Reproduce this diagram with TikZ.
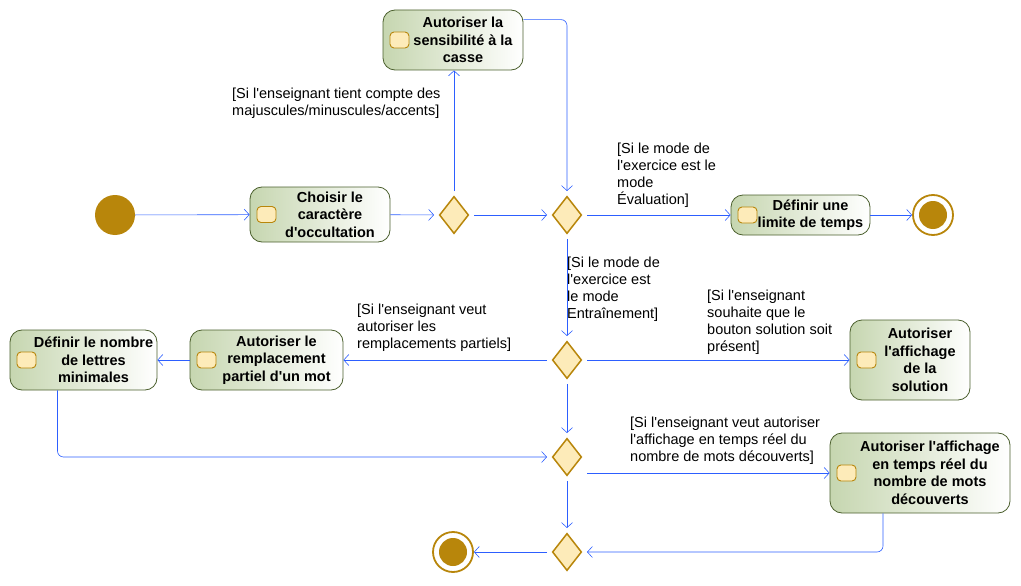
\documentclass[tikz,border=0pt]{standalone}
\usepackage{fontspec}
\setmainfont{Liberation Sans}
\usetikzlibrary{arrows.meta,shapes.geometric}

\definecolor{flowblue}{RGB}{45,95,255}
\definecolor{boxline}{RGB}{75,95,45}
\definecolor{boxgreen}{RGB}{198,214,176}
\definecolor{gold}{RGB}{184,134,11}
\definecolor{paleyellow}{RGB}{253,235,185}

\newcommand\ap{\textquotesingle}

\tikzset{
  iconbox/.style={draw=gold, fill=paleyellow, line width=0.9pt, rounded corners=4pt},
  action/.style={rounded corners=12pt, draw=boxline, line width=0.8pt, left color=boxgreen, right color=white,
    inner sep=0pt,
    path picture={\draw[iconbox] ([xshift=7pt,yshift=-8pt]path picture bounding box.west) rectangle ++(19pt,16pt);}},
  acttext/.style={align=center, xshift=10pt, font=\bfseries\fontsize{14.5}{17.5}\selectfont},
  decision/.style={diamond, draw=gold, fill=paleyellow, line width=1.5pt, minimum width=32pt, minimum height=40pt,
    inner sep=0pt, outer sep=4pt},
  startdot/.style={circle, fill=gold, minimum size=40pt, inner sep=0pt},
  enddot/.style={circle, draw=gold, line width=1.8pt, fill=white, minimum size=40pt, inner sep=0pt,
    path picture={\fill[gold] (path picture bounding box.center) circle (14pt);}},
  flow/.style={draw=flowblue, line width=0.6pt, -{Straight Barb[length=5pt,width=11pt]}},
  guard/.style={anchor=north west, align=left, inner sep=0pt, font=\fontsize{14.5}{17}\selectfont}
}

\begin{document}
\begin{tikzpicture}[x=1pt,y=-1pt]
  \useasboundingbox (0,0) rectangle (1021,586);

  % start and first actions
  \node[startdot] (start) at (115,215) {};
  \node[action, minimum width=140pt, minimum height=55pt,
    label={[acttext]center:{Choisir le\\caractère\\d\ap occultation}}] (choisir) at (320,214.5) {};
  \node[decision] (d1) at (454,215) {};
  \node[action, minimum width=140pt, minimum height=60pt,
    label={[acttext]center:{Autoriser la\\sensibilité à la\\casse}}] (casse) at (453,40) {};
  \node[decision] (d2) at (567,215) {};
  \node[action, minimum width=139pt, minimum height=40pt,
    label={[acttext]center:{Définir une\\limite de temps}}] (limite) at (800.5,215) {};
  \node[enddot] (finA) at (933,215) {};

  % middle part
  \node[decision] (d3) at (567,360) {};
  \node[action, minimum width=153pt, minimum height=60pt,
    label={[acttext]center:{Autoriser le\\remplacement\\partiel d\ap un mot}}] (remplace) at (266.5,360) {};
  \node[action, minimum width=147pt, minimum height=60pt,
    label={[acttext]center:{Définir le nombre\\de lettres\\minimales}}] (nombre) at (83.5,360) {};
  \node[action, minimum width=120pt, minimum height=80pt,
    label={[acttext]center:{Autoriser\\l\ap affichage\\de la\\solution}}] (solution) at (910,360) {};

  % bottom part
  \node[decision] (d4) at (567,457) {};
  \node[action, minimum width=180pt, minimum height=80pt,
    label={[acttext]center:{Autoriser l\ap affichage\\en temps réel du\\nombre de mots\\découverts}}] (tempsreel) at (920,473) {};
  \node[decision] (d5) at (567,552) {};
  \node[enddot] (finB) at (453,552) {};

  % guards
  \node[guard] (gcasse) at (232,88) {[Si l\ap enseignant tient compte des\\majuscules/minuscules/accents]};
  \node[guard] (geval) at (617,143) {[Si le mode de\\l\ap exercice est le\\mode\\Évaluation]};
  \node[guard] (gentr) at (567,257) {[Si le mode de\\l\ap exercice est\\le mode\\Entraînement]};
  \node[guard] (gremp) at (357,304) {[Si l\ap enseignant veut\\autoriser les\\remplacements partiels]};
  \node[guard] (gsol) at (707,290) {[Si l\ap enseignant\\souhaite que le\\bouton solution soit\\présent]};
  \node[guard] (gtemps) at (630,417) {[Si l\ap enseignant veut autoriser\\l\ap affichage en temps réel du\\nombre de mots découverts]};

  % flows
  \draw[flow] (start) -- (choisir);
  \draw[flow] (choisir) -- (d1);
  \draw[flow] (d1) -- (d1 |- casse.south);
  \draw[flow, rounded corners=6pt] ([yshift=-10pt]casse.north east) -| (d2);
  \draw[flow] (d1) -- (d2);
  \draw[flow] (d2) -- (limite);
  \draw[flow] (limite) -- (finA);
  \draw[flow] (d2) -- (d3);
  \draw[flow] (d3) -- (remplace);
  \draw[flow] (remplace) -- (nombre);
  \draw[flow] (d3) -- (solution);
  \draw[flow] (d3) -- (d4);
  \draw[flow, rounded corners=6pt] ([xshift=-26pt]nombre.south) |- (d4);
  \draw[flow] (d4.east |- tempsreel.west) -- (tempsreel.west);
  \draw[flow] (d4) -- (d5);
  \draw[flow, rounded corners=6pt] ([xshift=-37pt]tempsreel.south) |- (d5);
  \draw[flow] (d5) -- (finB);
\end{tikzpicture}
\end{document}
